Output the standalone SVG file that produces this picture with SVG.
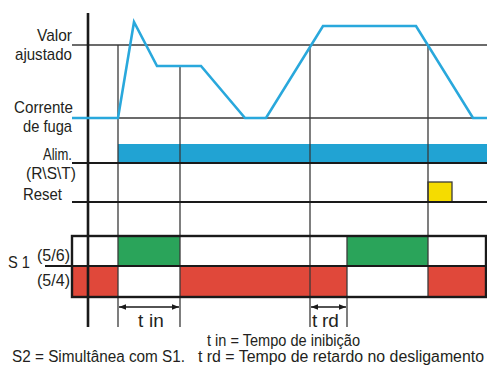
<svg xmlns="http://www.w3.org/2000/svg" width="487" height="367" viewBox="0 0 487 367">
<style>
text{font-family:"Liberation Sans",Arial,sans-serif;font-size:17px;fill:#231f20}
.r{text-anchor:end}
.foot{font-size:16px}
.thin{stroke:#3a3a3a;stroke-width:1.3;fill:none}
.thick{stroke:#1a1a1a;stroke-width:2.2;fill:none}
.box{stroke:#1a1a1a;stroke-width:2.4;fill:none}
.green{fill:#2aa45a}
.red{fill:#e0483a}
.blue{fill:#21a3d3}
.curve{stroke:#29a8dc;stroke-width:2.6;fill:none;stroke-linejoin:miter}
.dim{stroke:#1a1a1a;stroke-width:1.3;fill:none}
.big{font-size:19px}
</style>
<defs>
<marker id="ah" viewBox="0 0 10 10" refX="10" refY="5" markerWidth="7" markerHeight="7" orient="auto-start-reverse" markerUnits="userSpaceOnUse">
<path d="M0,1 L10,5 L0,9 Z" fill="#1a1a1a"/>
</marker>
</defs>
<rect width="487" height="367" fill="#fff"/>

<g id="fills">
<rect class="blue" x="118" y="144" width="369" height="19"/>
<rect class="green" x="118" y="236" width="62" height="30"/>
<rect class="green" x="347" y="236" width="81" height="30"/>
<rect class="red" x="72" y="266" width="46" height="31"/>
<rect class="red" x="180" y="266" width="167" height="31"/>
<rect class="red" x="428" y="266" width="59" height="31"/>
<rect x="428" y="182" width="24" height="20" fill="#f5dc00" stroke="#3a3a3a" stroke-width="1.3"/>
</g>

<g id="connectors">
<line class="thin" x1="72" y1="45" x2="487" y2="45"/>
<line class="thin" x1="72" y1="118" x2="487" y2="118"/>
<line class="thin" x1="118" y1="45" x2="118" y2="327"/>
<line class="thin" x1="180" y1="66" x2="180" y2="327"/>
<line class="thin" x1="310" y1="45" x2="310" y2="327"/>
<line class="thin" x1="347" y1="236" x2="347" y2="327"/>
<line class="thin" x1="428" y1="45" x2="428" y2="297"/>
<line class="thick" x1="72" y1="163" x2="487" y2="163"/>
<line class="thick" x1="72" y1="202" x2="487" y2="202"/>
<rect class="box" x="72" y="236" width="414" height="61"/>
<line class="thick" x1="45" y1="266" x2="487" y2="266"/>
<line x1="88" y1="13" x2="88" y2="327" stroke="#1a1a1a" stroke-width="2.6"/>
<polyline class="curve" points="72,118 118,118 134,22 157,66 201,66 245,118 266,118 323,26 416,26 473,118 487,118"/>
<line class="dim" x1="119" y1="307" x2="179" y2="307" marker-start="url(#ah)" marker-end="url(#ah)"/>
<line class="dim" x1="311" y1="307" x2="346" y2="307" marker-start="url(#ah)" marker-end="url(#ah)"/>
</g>

<g id="labels">
<text class="r" x="72" y="41" textLength="35" lengthAdjust="spacingAndGlyphs">Valor</text>
<text class="r" x="72" y="60" textLength="57" lengthAdjust="spacingAndGlyphs">ajustado</text>
<text class="r" x="73" y="113" textLength="59" lengthAdjust="spacingAndGlyphs">Corrente</text>
<text class="r" x="72" y="132" textLength="49" lengthAdjust="spacingAndGlyphs">de fuga</text>
<text class="r" x="72" y="160" textLength="29" lengthAdjust="spacingAndGlyphs">Alim.</text>
<text class="r" x="76" y="179" textLength="50" lengthAdjust="spacingAndGlyphs">(R\S\T)</text>
<text class="r" x="62" y="200" textLength="39" lengthAdjust="spacingAndGlyphs">Reset</text>
<text x="8" y="268" font-size="18" textLength="22" lengthAdjust="spacingAndGlyphs">S 1</text>
<text class="r" x="70" y="261" textLength="33" lengthAdjust="spacingAndGlyphs">(5/6)</text>
<text class="r" x="70" y="286" textLength="33" lengthAdjust="spacingAndGlyphs">(5/4)</text>
<text class="big" x="138" y="327">t<tspan x="149">in</tspan></text>
<text class="big" x="312" y="327">t<tspan x="322">rd</tspan></text>
<text class="foot" x="207" y="346" textLength="153" lengthAdjust="spacingAndGlyphs">t in = Tempo de inibição</text>
<text class="foot" x="12" y="362" textLength="173" lengthAdjust="spacingAndGlyphs">S2  = Simultânea com S1.</text>
<text class="foot" x="198" y="362" textLength="286" lengthAdjust="spacingAndGlyphs">t rd = Tempo de retardo no desligamento</text>
</g>
</svg>
